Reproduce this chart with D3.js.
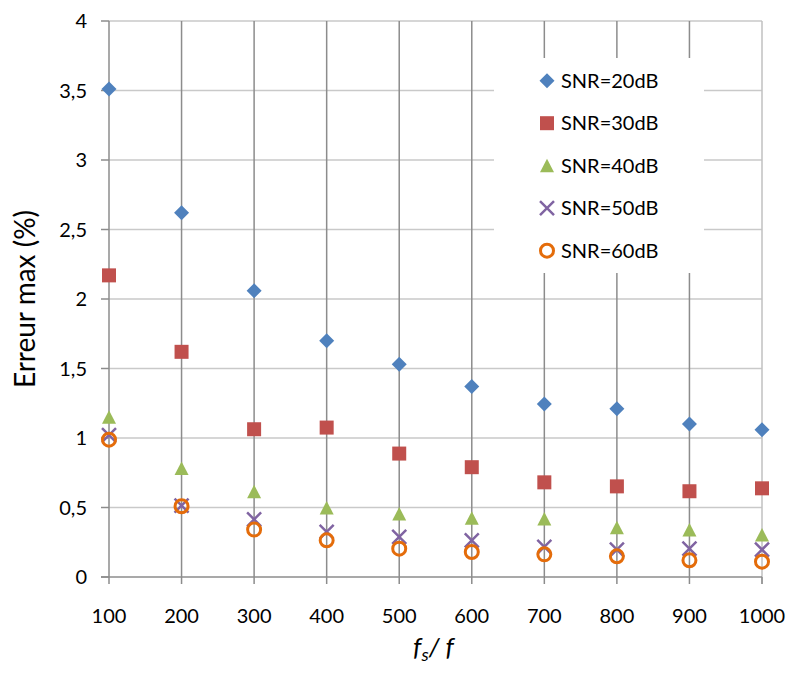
<!DOCTYPE html>
<html><head><meta charset="utf-8">
<script src="https://cdn.jsdelivr.net/npm/d3@7"></script>
<style>body{margin:0;background:#fff}svg{display:block;font-family:Lato,"Open Sans",sans-serif}</style>
</head><body><svg id="c" width="789" height="681"></svg>
<script>
const xValues = [100,200,300,400,500,600,700,800,900,1000];
const seriesNames = ["SNR=20dB","SNR=30dB","SNR=40dB","SNR=50dB","SNR=60dB"];
const snr20 = [3.51,2.62,2.06,1.70,1.53,1.37,1.245,1.21,1.10,1.06];
const snr30 = [2.17,1.62,1.063,1.075,0.888,0.79,0.681,0.652,0.617,0.638];
const snr40 = [1.15,0.78,0.614,0.497,0.453,0.422,0.417,0.355,0.338,0.302];
const snr50 = [1.02,0.514,0.415,0.324,0.288,0.264,0.216,0.197,0.204,0.197];
const snr60 = [0.988,0.509,0.341,0.264,0.204,0.18,0.163,0.149,0.12,0.11];
const yTicks = [0,0.5,1,1.5,2,2.5,3,3.5,4];
const yTickLabels = ["0","0,5","1","1,5","2","2,5","3","3,5","4"];
const xTickLabels = ["100","200","300","400","500","600","700","800","900","1000"];
const colors = ["#4F81BD","#C0504D","#9BBB59","#8064A2","#E46C0A"];

const svg = d3.select("#c");
const x = d3.scaleLinear().domain([100,1000]).range([109,762]);
const y = d3.scaleLinear().domain([0,4]).range([577,21]);

// horizontal gridlines
svg.append("g").selectAll("line").data(yTicks.slice(1)).join("line")
  .attr("x1",x(100)).attr("x2",x(1000)).attr("y1",d=>y(d)).attr("y2",d=>y(d))
  .attr("stroke","#c9c9c9").attr("stroke-width",1.5);
// vertical gridlines
svg.append("g").selectAll("line").data(xValues).join("line")
  .attr("x1",d=>x(d)).attr("x2",d=>x(d)).attr("y1",y(4)).attr("y2",y(0)+7)
  .attr("stroke",d=>d===1000?"#c0c0c0":"#8c8c8c").attr("stroke-width",1.5);
svg.append("g").selectAll("line").data([1000]).join("line")
  .attr("x1",d=>x(d)).attr("x2",d=>x(d)).attr("y1",y(0)).attr("y2",y(0)+7)
  .attr("stroke","#8c8c8c").attr("stroke-width",1.5);
// y ticks
svg.append("g").selectAll("line").data(yTicks).join("line")
  .attr("x1",x(100)-8).attr("x2",x(100)).attr("y1",d=>y(d)).attr("y2",d=>y(d))
  .attr("stroke","#8c8c8c").attr("stroke-width",1.5);
// x axis line
svg.append("line").attr("x1",x(100)-8).attr("x2",x(1000)).attr("y1",y(0)).attr("y2",y(0))
  .attr("stroke","#8c8c8c").attr("stroke-width",1.5);

// tick labels
svg.append("g").selectAll("text").data(yTicks).join("text")
  .attr("x",87).attr("y",d=>y(d)).attr("dy","0.36em").attr("text-anchor","end")
  .attr("font-size",20).attr("fill","#000").text((d,i)=>yTickLabels[i]);
svg.append("g").selectAll("text").data(xValues).join("text")
  .attr("x",d=>x(d)).attr("y",623).attr("text-anchor","middle")
  .attr("font-size",20).attr("fill","#000").text((d,i)=>xTickLabels[i]);

// axis titles
svg.append("text").attr("transform",`translate(35,${(y(0)+y(4))/2}) rotate(-90)`)
  .attr("text-anchor","middle").attr("font-size",28).attr("fill","#000").text("Erreur max (%)");
const xt = svg.append("text").attr("x",(x(100)+x(1000))/2-2).attr("y",656).attr("text-anchor","middle")
  .attr("font-size",26).attr("font-style","italic").attr("fill","#000");
xt.append("tspan").text("f");
xt.append("tspan").attr("font-size",18).attr("dy",5).text("s");
xt.append("tspan").attr("dy",-5).text("/");
xt.append("tspan").text(" f");

// marker drawing
function marker(g, k){
  const c = colors[k];
  if(k===0) g.append("path").attr("d","M0,-7.5L7.5,0L0,7.5L-7.5,0Z").attr("fill",c);
  else if(k===1) g.append("rect").attr("x",-7).attr("y",-7).attr("width",14).attr("height",14).attr("fill",c);
  else if(k===2) g.append("path").attr("d","M0,-7L7,6.5L-7,6.5Z").attr("fill",c);
  else if(k===3) g.append("path").attr("d","M-7,-7L7,7M-7,7L7,-7").attr("stroke",c).attr("stroke-width",2.5).attr("fill","none");
  else g.append("circle").attr("r",6.5).attr("fill","none").attr("stroke",c).attr("stroke-width",3);
}
const allSeries = [snr20,snr30,snr40,snr50,snr60];
allSeries.forEach((vals,k)=>{
  const g = svg.append("g");
  vals.forEach((v,i)=>{
    const mg = g.append("g").attr("transform",`translate(${x(xValues[i])},${y(v)})`);
    marker(mg,k);
  });
});

// legend
const lg = svg.append("g");
lg.append("rect").attr("x",494).attr("y",58).attr("width",210).attr("height",215).attr("fill","#fff");
const rowY = d3.scaleLinear().domain([0,4]).range([80.7,250.7]);
seriesNames.forEach((n,k)=>{
  const mg = lg.append("g").attr("transform",`translate(547,${rowY(k)})`);
  marker(mg,k);
  lg.append("text").attr("x",561).attr("y",rowY(k)).attr("dy","0.36em")
    .attr("font-size",20).attr("fill","#000").text(n);
});
</script></body></html>
